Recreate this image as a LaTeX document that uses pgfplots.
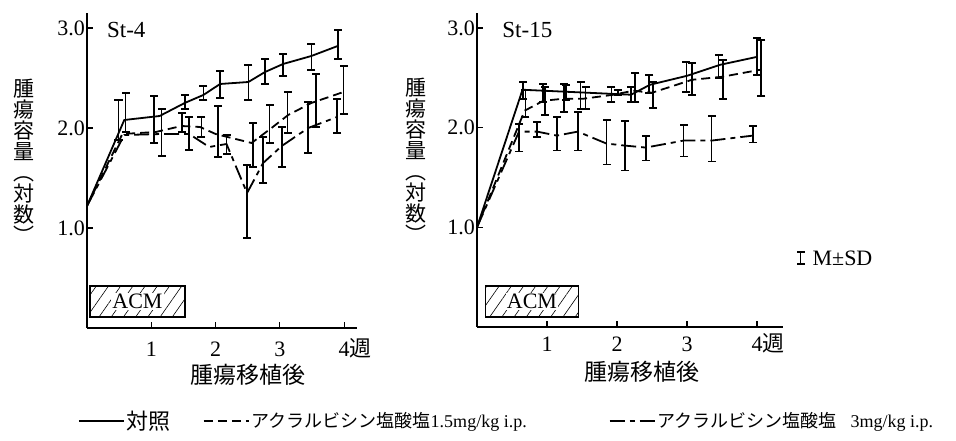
\documentclass[border=0pt]{standalone}
\usepackage{fontspec}
\setmainfont{Liberation Serif}
\newfontfamily\cjk{Noto Sans CJK JP}
\usepackage{pgfplots}
\usepackage{pgfplotstable}
\pgfplotsset{compat=1.18}
\usetikzlibrary{patterns.meta}

% ---------- left panel (St-4) ----------
\pgfplotstableread{
x y
0 1.22
0.58 2.08
1.13 2.12
1.52 2.25
1.81 2.33
2.07 2.44
2.51 2.46
2.77 2.56
3.05 2.64
3.49 2.72
3.90 2.82
}\LctrL
\pgfplotstableread{
x y
0 1.22
0.55 1.94
1.07 1.96
1.47 2.02
1.76 2.01
2.00 1.94
2.56 1.85
2.87 2.00
3.13 2.13
3.49 2.25
3.99 2.36
}\LlowL
\pgfplotstableread{
x y
0 1.22
0.58 1.93
1.16 1.94
1.59 1.94
1.90 1.81
2.17 1.84
2.49 1.35
2.74 1.65
3.03 1.82
3.44 2.00
3.89 2.11
}\LhighL
% error bars: x, lower end, upper end
\pgfplotstableread{
x lo hi
0.49 1.88 2.28
0.60 1.96 2.35
1.04 1.85 2.32
1.16 1.72 2.19
1.48 1.96 2.15
1.52 2.19 2.33
1.59 1.78 2.11
1.78 1.91 2.11
1.81 2.28 2.42
2.04 1.71 2.22
2.07 2.30 2.57
2.17 1.74 1.93
2.49 0.90 1.63
2.51 2.28 2.63
2.58 1.61 2.05
2.74 1.45 1.91
2.77 2.44 2.69
2.84 1.85 2.23
3.03 1.61 2.01
3.05 2.52 2.74
3.12 1.95 2.36
3.44 1.75 2.26
3.49 2.58 2.84
3.56 2.01 2.54
3.89 1.95 2.29
3.90 2.69 2.98
3.99 2.14 2.62
}\LbarsL

% ---------- right panel (St-15) ----------
\pgfplotstableread{
x y
0 1.0
0.65 2.38
2.20 2.33
2.47 2.43
3.00 2.52
3.47 2.63
4.00 2.71
}\RctrL
\pgfplotstableread{
x y
0 1.0
0.68 2.17
0.95 2.27
1.24 2.29
1.52 2.29
1.95 2.33
2.23 2.37
2.50 2.35
3.07 2.48
3.50 2.51
4.04 2.58
}\RlowL
\pgfplotstableread{
x y
0 1.0
0.60 1.96
0.86 1.96
1.14 1.92
1.44 1.96
1.85 1.84
2.11 1.82
2.41 1.80
2.95 1.87
3.35 1.87
3.94 1.92
}\RhighL
\pgfplotstableread{
x lo hi
0.60 1.76 2.04
0.66 2.29 2.46
0.69 2.11 2.38
0.86 1.91 2.06
0.94 2.26 2.44
0.97 2.13 2.41
1.14 1.77 2.11
1.24 2.16 2.44
1.27 2.28 2.43
1.44 1.77 2.16
1.48 2.19 2.46
1.55 2.19 2.41
1.85 1.63 2.08
1.92 2.26 2.41
2.01 2.33 2.38
2.11 1.57 2.07
2.20 2.26 2.41
2.26 2.26 2.55
2.41 1.67 1.92
2.46 2.35 2.53
2.51 2.20 2.46
2.95 1.71 2.03
2.99 2.36 2.66
3.07 2.33 2.65
3.35 1.66 2.12
3.45 2.50 2.73
3.51 2.29 2.68
3.94 1.85 2.02
4.00 2.53 2.90
4.06 2.32 2.88
}\RbarsL
\pgfplotstableread{
x lo hi
4.62 0.63 0.75
}\KeyBar

\pgfplotsset{
  panel/.style={
    scale only axis, anchor=south west, clip=false,
    axis lines=left, axis line style={-, line width=1.4pt, black},
    xmin=0, ymin=0, ymax=3.15,
    ytick={1,2,3}, yticklabels={1.0,2.0,3.0},
    xtick={1,2,3,4}, xticklabels={1,2,3,{4\rlap{\cjk 週}}},
    tick align=inside, major tick length=6pt,
    tick style={line width=1.2pt, black},
    ticklabel style={font=\fontsize{22}{24}\selectfont},
    yticklabel style={inner xsep=0pt, xshift=-2pt},
    /pgf/number format/assume math mode=true,
    ylabel={腫\\瘍\\容\\量\\︵\\対\\数\\︶},
    ylabel style={rotate=-90, align=center, anchor=center,
      font=\cjk\fontsize{21}{21}\selectfont},
    xlabel={腫瘍移植後},
    xlabel style={anchor=center, font=\cjk\fontsize{23}{23}\selectfont},
  },
  ctrl/.style={black, line width=1.8pt, solid},
  low/.style={black, line width=1.8pt, dash pattern=on 9pt off 5pt},
  high/.style={black, line width=1.8pt, dash pattern=on 15pt off 5pt on 5pt off 5pt},
  stem/.style={forget plot, draw=none, mark=none,
    error bars/y dir=minus, error bars/y explicit,
    error bars/error mark=none,
    error bars/error bar style={draw=black, line width=1.6pt, solid}},
  cap/.style={forget plot, black, line width=1.8pt, only marks, mark=-, mark size=4pt,
    mark options={solid, line width=1.8pt}},
}
\newcommand\drawbars[1]{%
  \addplot[stem] table[x=x, y=hi, y error expr=\thisrow{hi}-\thisrow{lo}] {#1};
  \addplot[cap] table[x=x, y=hi] {#1};
  \addplot[cap] table[x=x, y=lo] {#1};
}

\begin{document}
\begin{tikzpicture}
\useasboundingbox (0pt,0pt) rectangle (956pt,441pt);

% ===== left =====
\begin{axis}[panel, at={(87pt,113pt)}, width=270pt, height=315pt, xmax=4.2,
  xticklabel style={anchor=base, yshift=-29pt},
  ylabel style={at={(axis description cs:-0.235,0.53)}},
  xlabel style={at={(axis description cs:0.596,-0.149)}},
  legend columns=3,
  legend style={at={(axis description cs:-0.045,-0.295)}, anchor=west,
    draw=none, fill=none,
    font=\fontsize{18}{20}\selectfont,
    /tikz/every even column/.append style={column sep=30pt}},
  legend cell align=left,
  legend image code/.code={\draw[#1] (0pt,0pt) -- (45pt,0pt);},
]
\addplot[ctrl] table[x=x,y=y] {\LctrL};
\addlegendentry{{\cjk\fontsize{22}{22}\selectfont 対照}}
\addplot[low] table[x=x,y=y] {\LlowL};
\addlegendentry{{\cjk アクラルビシン塩酸塩}1.5mg/kg i.p.\kern50pt}
\addplot[high] table[x=x,y=y] {\LhighL};
\addlegendentry{{\cjk アクラルビシン塩酸塩}\kern14pt 3mg/kg i.p.}
\drawbars{\LbarsL}
\draw[line width=1.8pt, pattern={Lines[angle=55,distance=10pt,line width=0.6pt]}]
  (axis cs:0.05,0.11) rectangle (axis cs:1.52,0.42);
\node[fill=white, inner sep=1pt, font=\fontsize{22}{24}\selectfont] at (axis cs:0.785,0.265) {ACM};
\node[anchor=west, inner sep=0pt, font=\fontsize{23}{24}\selectfont] at (axis cs:0.31,2.98) {St-4};
\end{axis}

% ===== right =====
\begin{axis}[panel, at={(477pt,114pt)}, width=306pt, height=314pt, xmax=4.37,
  xticklabel style={anchor=base, yshift=-25pt},
  ylabel style={at={(axis description cs:-0.199,0.53)}},
  xlabel style={at={(axis description cs:0.539,-0.143)}},
]
\addplot[ctrl] table[x=x,y=y] {\RctrL};
\addplot[low] table[x=x,y=y] {\RlowL};
\addplot[high] table[x=x,y=y] {\RhighL};
\drawbars{\RbarsL}
\drawbars{\KeyBar}
\node[anchor=west, inner sep=0pt, font=\fontsize{22}{24}\selectfont] at (axis cs:4.79,0.69) {M±SD};
\draw[line width=1.8pt, pattern={Lines[angle=55,distance=10pt,line width=0.6pt]}]
  (axis cs:0.12,0.10) rectangle (axis cs:1.45,0.41);
\node[fill=white, inner sep=1pt, font=\fontsize{22}{24}\selectfont] at (axis cs:0.785,0.255) {ACM};
\node[anchor=west, inner sep=0pt, font=\fontsize{23}{24}\selectfont] at (axis cs:0.36,2.98) {St-15};
\end{axis}
\end{tikzpicture}
\end{document}
